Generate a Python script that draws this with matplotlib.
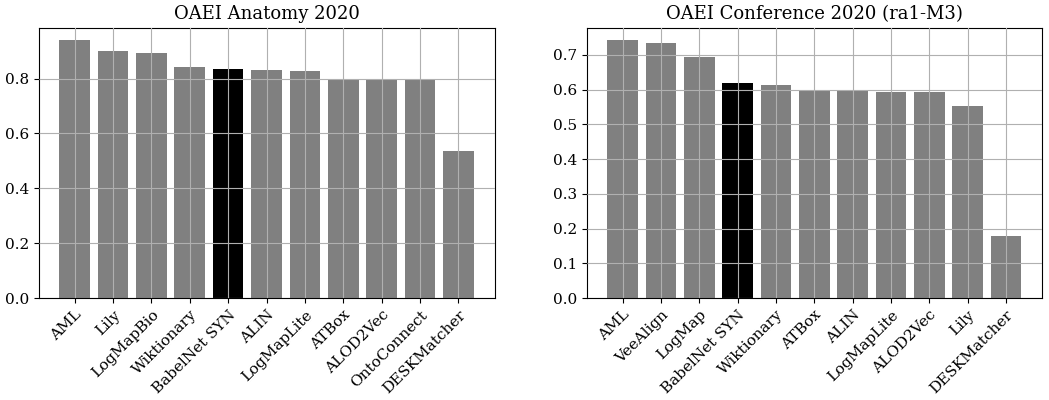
import matplotlib
matplotlib.use("Agg")
import matplotlib.pyplot as plt

plt.rcParams['font.family'] = 'DejaVu Serif'

# OAEI Anatomy 2020
anatomy_systems = ["AML", "Lily", "LogMapBio", "Wiktionary", "BabelNet SYN", "ALIN",
                   "LogMapLite", "ATBox", "ALOD2Vec", "OntoConnect", "DESKMatcher"]
anatomy_scores = [0.939, 0.899, 0.892, 0.841, 0.836, 0.830, 0.827, 0.798, 0.798, 0.798, 0.536]

# OAEI Conference 2020 (ra1-M3)
conf_systems = ["AML", "VeeAlign", "LogMap", "BabelNet SYN", "Wiktionary", "ATBox",
                "ALIN", "LogMapLite", "ALOD2Vec", "Lily", "DESKMatcher"]
conf_scores = [0.742, 0.734, 0.693, 0.619, 0.613, 0.600, 0.600, 0.593, 0.593, 0.553, 0.179]

highlight = "BabelNet SYN"

fig = plt.figure(figsize=(10.49, 4.0), dpi=100)
ax1 = fig.add_axes([38.5 / 1049, 1 - 298 / 400, (494.5 - 38.5) / 1049, (298 - 27.5) / 400])
ax2 = fig.add_axes([586.5 / 1049, 1 - 298 / 400, (1042 - 586.5) / 1049, (298 - 27.5) / 400])

for ax, names, vals, title in [(ax1, anatomy_systems, anatomy_scores, "OAEI Anatomy 2020"),
                               (ax2, conf_systems, conf_scores, "OAEI Conference 2020 (ra1-M3)")]:
    colors = ["black" if n == highlight else "grey" for n in names]
    ax.bar(names, vals, color=colors)
    ax.set_title(title, fontsize=13)
    ax.grid(True, color="#b0b0b0", linewidth=0.8)
    ax.set_axisbelow(False)
    ax.tick_params(labelsize=11)
    plt.setp(ax.get_xticklabels(), rotation=45, ha="right", rotation_mode="anchor")

ax2.set_yticks([0.0, 0.1, 0.2, 0.3, 0.4, 0.5, 0.6, 0.7])

fig.savefig("out.png", dpi=100)
